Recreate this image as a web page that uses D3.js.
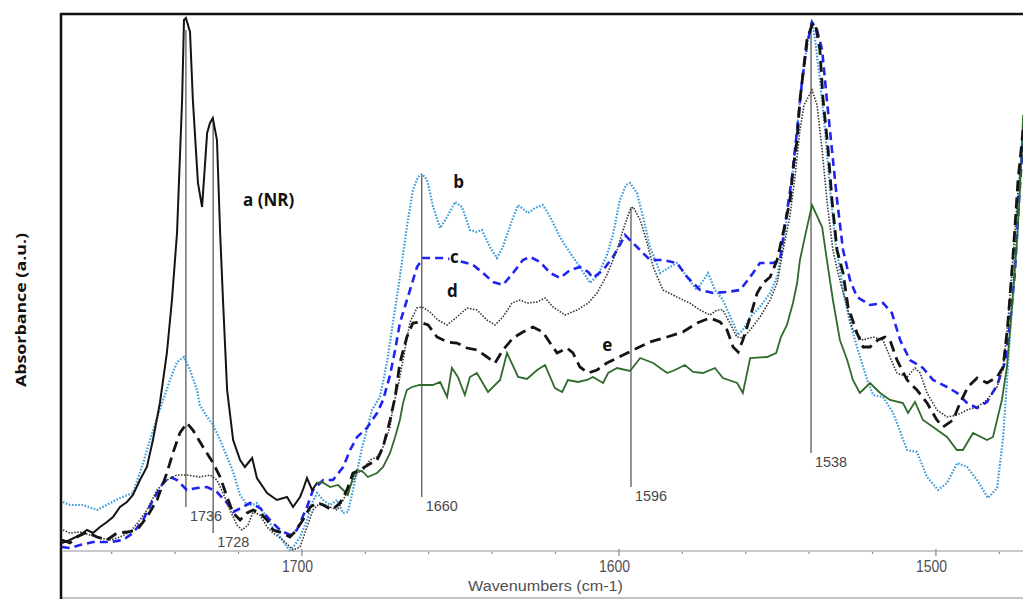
<!DOCTYPE html>
<html>
<head>
<meta charset="utf-8">
<script src="https://cdn.jsdelivr.net/npm/d3@7"></script>
<style>
  html, body { margin: 0; padding: 0; background: #fff; }
  svg { display: block; }
</style>
</head>
<body>
<svg id="chart" width="1023" height="599"></svg>
<script>
// ---------------- DATA (wavenumber cm-1, absorbance a.u.) ----------------
const seriesA_NR = [[1775.7,0.008],[1773.2,0.011],[1770.0,0.016],[1767.8,0.021],[1765.9,0.018],[1763.7,0.024],[1761.5,0.029],[1759.6,0.034],[1757.4,0.044],[1755.2,0.049],[1753.3,0.056],[1751.1,0.071],[1748.9,0.084],[1747.0,0.111],[1744.8,0.148],[1742.6,0.198],[1741.0,0.251],[1739.4,0.318],[1737.8,0.451],[1737.2,0.531],[1736.6,0.533],[1735.3,0.519],[1734.4,0.451],[1732.8,0.368],[1731.5,0.344],[1729.9,0.418],[1729.0,0.428],[1728.1,0.433],[1726.8,0.411],[1725.8,0.318],[1724.9,0.251],[1723.6,0.161],[1721.7,0.111],[1719.5,0.091],[1718.0,0.084],[1715.7,0.093],[1714.2,0.073],[1711.0,0.058],[1707.9,0.051],[1704.7,0.054],[1702.8,0.044],[1700.6,0.054],[1699.7,0.061],[1698.4,0.073],[1696.8,0.061],[1695.2,0.068],
[1693.7,0.069],[1691.1,0.064],[1688.6,0.066],[1687.0,0.061],[1685.5,0.056],[1683.9,0.074],[1682.6,0.081],[1680.7,0.079],[1679.2,0.074],[1676.3,0.078],[1674.4,0.084],[1672.2,0.098],[1670.6,0.114],[1669.1,0.131],[1668.1,0.148],[1666.9,0.161],[1665.3,0.164],[1662.8,0.166],[1658.7,0.166],[1656.4,0.169],[1654.2,0.154],[1652.7,0.183],[1650.8,0.174],[1648.6,0.156],[1647.0,0.174],[1644.8,0.178],[1641.3,0.159],[1637.5,0.171],[1635.3,0.198],[1631.8,0.174],[1629.0,0.172],[1625.8,0.181],[1623.3,0.186],[1620.2,0.163],[1617.9,0.159],[1616.1,0.171],[1612.9,0.169],[1610.1,0.171],[1608.2,0.174],[1605.0,0.168],[1603.4,0.178],[1600.6,0.183],[1596.5,0.180],[1593.3,0.193],[1589.2,0.188],[1584.8,0.178],[1582.3,0.181],[1579.2,0.186],[1576.6,0.179],[1573.5,0.178],[1569.7,0.183],[1567.2,0.173],[1562.7,0.168],[1560.9,0.158],[1558.6,0.193],[1553.3,0.194],[1550.4,0.198],[1548.9,0.214],[1547.0,0.226],[1545.1,0.248],[1543.8,0.268],[1542.9,0.291],[1541.0,0.319],[1539.1,0.346],[1537.5,0.335],[1535.9,0.324],[1534.4,0.291],[1532.5,0.251],[1530.3,0.211],[1528.0,0.191],[1526.2,0.171],[1524.0,0.158],[1520.8,0.168],[1517.6,0.158],[1514.5,0.151],[1510.4,0.148],[1508.8,0.138],[1506.6,0.149],[1504.1,0.131],[1500.9,0.124],[1496.5,0.114],[1493.4,0.101],[1491.5,0.101],[1488.3,0.118],[1483.9,0.111],[1482.0,0.114],[1479.2,0.151],[1477.6,0.184],[1476.0,0.244],[1474.4,0.311],[1473.5,0.361],[1472.5,0.436]];
// wavenumber where spectrum a changes from black to green in the original figure
const seriesA_colourSplit = 1695.2;

const seriesB = [[1775.4,0.049],[1773.2,0.046],[1769.1,0.046],[1764.6,0.041],[1760.5,0.048],[1757.4,0.053],[1753.3,0.058],[1750.1,0.088],[1747.9,0.111],[1745.7,0.133],[1743.8,0.151],[1741.6,0.171],[1739.4,0.189],[1737.2,0.194],[1735.3,0.181],[1733.1,0.161],[1732.2,0.146],[1729.9,0.134],[1728.0,0.126],[1725.8,0.111],[1723.6,0.094],[1721.7,0.079],[1719.5,0.056],[1717.3,0.046],[1715.7,0.046],[1714.2,0.048],[1711.6,0.036],[1709.4,0.024],[1706.9,0.014],[1704.7,0.004],[1703.8,0.001],[1702.2,0.006],[1700.6,0.014],[1698.4,0.031],[1696.8,0.048],[1695.2,0.058],[1693.3,0.051],[1691.1,0.046],[1688.9,0.051],[1687.0,0.038],[1685.5,0.039],[1683.9,0.061],[1682.3,0.084],[1681.0,0.104],[1679.5,0.121],[1677.9,0.141],[1675.4,0.154],[1673.2,0.188],[1671.3,0.228],[1669.1,0.274],[1666.9,0.324],[1665.0,0.361],[1663.4,0.374],[1662.1,0.377],[1660.5,0.371],[1658.6,0.344],[1656.4,0.323],[1654.2,0.334],[1651.7,0.349],[1649.5,0.344],[1647.0,0.321],[1644.8,0.319],[1643.2,0.321],[1640.7,0.304],[1638.5,0.293],[1636.6,0.304],[1633.7,0.331],[1631.8,0.346],[1628.7,0.338],[1626.5,0.343],[1624.0,0.346],[1621.7,0.334],[1618.6,0.314],[1615.4,0.298],[1612.3,0.284],[1609.1,0.268],[1606.6,0.276],[1603.8,0.296],[1601.9,0.316],[1599.7,0.351],[1597.8,0.366],[1596.5,0.368],[1594.3,0.358],[1592.4,0.334],[1590.2,0.304],[1587.0,0.278],[1583.9,0.284],[1581.7,0.288],[1578.5,0.274],[1575.4,0.261],[1571.9,0.278],[1569.7,0.261],[1567.2,0.251],[1564.0,0.228],[1562.4,0.216],[1560.9,0.221],[1558.6,0.234],[1555.5,0.244],[1552.3,0.258],[1550.1,0.274],[1548.6,0.301],[1547.0,0.334],[1545.1,0.381],[1542.9,0.451],[1540.7,0.506],[1539.1,0.529],[1538.1,0.511],[1536.6,0.471],[1535.0,0.421],[1533.4,0.361],[1531.8,0.311],[1529.3,0.261],[1527.1,0.228],[1524.9,0.204],[1521.7,0.171],[1519.8,0.156],[1516.7,0.154],[1513.5,0.138],[1509.1,0.101],[1506.0,0.099],[1502.8,0.074],[1499.3,0.061],[1496.5,0.068],[1493.3,0.088],[1490.2,0.084],[1487.0,0.071],[1483.6,0.053],[1480.7,0.063],[1478.8,0.114],[1477.3,0.184],[1475.7,0.261],[1474.1,0.351],[1472.5,0.421]];

const seriesC = [[1775.8,0.004],[1773.2,0.003],[1770.0,0.006],[1765.9,0.009],[1760.5,0.009],[1756.4,0.011],[1753.3,0.018],[1750.1,0.031],[1747.0,0.051],[1743.8,0.068],[1741.6,0.074],[1739.4,0.071],[1736.3,0.061],[1733.1,0.063],[1729.9,0.064],[1726.8,0.059],[1723.6,0.048],[1721.7,0.039],[1718.6,0.044],[1716.4,0.048],[1713.2,0.043],[1710.1,0.031],[1706.9,0.021],[1703.8,0.016],[1701.6,0.021],[1698.4,0.044],[1696.5,0.061],[1693.3,0.071],[1690.2,0.071],[1687.0,0.084],[1684.8,0.101],[1682.6,0.114],[1679.5,0.123],[1676.3,0.138],[1674.4,0.151],[1672.2,0.176],[1670.6,0.201],[1669.1,0.228],[1665.9,0.261],[1663.7,0.284],[1661.8,0.293],[1658.6,0.293],[1654.9,0.293],[1651.7,0.291],[1649.2,0.289],[1646.0,0.286],[1642.9,0.278],[1639.7,0.269],[1636.6,0.266],[1633.4,0.278],[1630.3,0.291],[1628.0,0.294],[1624.9,0.289],[1621.7,0.278],[1618.6,0.273],[1615.4,0.281],[1612.3,0.284],[1609.7,0.279],[1608.2,0.273],[1605.0,0.281],[1601.9,0.294],[1599.7,0.306],[1598.1,0.316],[1594.3,0.304],[1590.2,0.291],[1586.1,0.291],[1581.7,0.288],[1578.5,0.274],[1574.4,0.261],[1570.3,0.258],[1565.9,0.259],[1561.8,0.261],[1558.6,0.274],[1555.5,0.288],[1551.4,0.288],[1549.2,0.291],[1547.6,0.326],[1545.4,0.374],[1543.8,0.421],[1542.2,0.471],[1540.7,0.506],[1539.1,0.529],[1537.5,0.521],[1535.9,0.501],[1534.4,0.451],[1532.8,0.401],[1531.2,0.351],[1529.3,0.301],[1527.1,0.271],[1524.9,0.254],[1520.8,0.246],[1516.7,0.248],[1513.9,0.238],[1511.3,0.211],[1508.2,0.191],[1504.1,0.183],[1500.9,0.171],[1496.5,0.164],[1493.3,0.158],[1490.2,0.148],[1487.0,0.143],[1483.9,0.149],[1480.7,0.166],[1478.2,0.189],[1476.6,0.228],[1475.1,0.278],[1473.8,0.351],[1472.5,0.411]];

const seriesD = [[1775.4,0.021],[1773.2,0.018],[1770.0,0.019],[1766.9,0.016],[1763.7,0.013],[1760.5,0.011],[1757.4,0.014],[1754.2,0.019],[1751.1,0.031],[1748.9,0.041],[1745.7,0.061],[1742.6,0.071],[1739.4,0.076],[1736.3,0.076],[1732.2,0.074],[1729.0,0.076],[1726.8,0.071],[1724.9,0.058],[1722.7,0.041],[1720.5,0.026],[1718.9,0.021],[1717.0,0.026],[1715.4,0.039],[1713.2,0.036],[1711.0,0.024],[1709.1,0.018],[1706.0,0.011],[1702.8,0.001],[1700.6,0.004],[1698.4,0.024],[1696.5,0.041],[1694.3,0.048],[1691.1,0.044],[1688.9,0.041],[1687.0,0.051],[1684.8,0.064],[1682.6,0.078],[1680.7,0.081],[1678.5,0.091],[1676.3,0.094],[1674.4,0.104],[1672.2,0.124],[1671.3,0.144],[1669.7,0.164],[1668.1,0.191],[1665.9,0.229],[1663.7,0.243],[1662.1,0.244],[1659.6,0.239],[1657.1,0.231],[1654.2,0.226],[1651.1,0.234],[1647.9,0.243],[1644.8,0.241],[1641.6,0.231],[1639.1,0.226],[1636.6,0.234],[1633.7,0.248],[1631.2,0.251],[1629.0,0.248],[1625.8,0.249],[1623.3,0.253],[1620.8,0.244],[1617.0,0.236],[1613.2,0.241],[1609.7,0.248],[1606.9,0.258],[1603.8,0.276],[1600.6,0.301],[1598.7,0.321],[1596.5,0.341],[1595.5,0.344],[1593.3,0.331],[1591.1,0.308],[1589.2,0.284],[1586.1,0.261],[1581.7,0.254],[1577.7,0.248],[1574.4,0.241],[1571.3,0.236],[1569.1,0.241],[1567.2,0.241],[1565.0,0.228],[1562.8,0.214],[1560.9,0.213],[1558.6,0.221],[1555.5,0.234],[1552.3,0.251],[1550.1,0.268],[1548.2,0.301],[1546.0,0.336],[1544.4,0.376],[1542.9,0.421],[1541.6,0.446],[1539.1,0.461],[1537.5,0.446],[1535.9,0.401],[1534.4,0.351],[1532.5,0.301],[1530.9,0.278],[1528.0,0.244],[1526.2,0.221],[1523.0,0.211],[1519.8,0.214],[1516.7,0.211],[1514.5,0.194],[1512.3,0.178],[1509.1,0.174],[1506.6,0.183],[1505.0,0.178],[1502.8,0.158],[1499.7,0.141],[1496.5,0.134],[1493.3,0.136],[1490.2,0.141],[1487.0,0.144],[1483.9,0.151],[1480.7,0.164],[1478.8,0.184],[1477.3,0.228],[1475.7,0.294],[1474.1,0.361],[1472.5,0.401]];

const seriesE = [[1775.7,0.011],[1773.2,0.008],[1771.0,0.014],[1767.8,0.019],[1764.6,0.014],[1761.5,0.011],[1758.3,0.018],[1755.2,0.019],[1752.0,0.021],[1748.9,0.034],[1745.7,0.051],[1742.6,0.078],[1740.7,0.098],[1738.5,0.118],[1736.3,0.128],[1734.4,0.121],[1731.2,0.104],[1728.0,0.088],[1725.8,0.074],[1723.6,0.054],[1721.7,0.038],[1719.5,0.031],[1717.3,0.038],[1715.4,0.041],[1713.2,0.038],[1711.0,0.031],[1709.1,0.021],[1706.0,0.018],[1703.8,0.014],[1702.2,0.019],[1699.7,0.031],[1697.4,0.044],[1695.2,0.048],[1693.3,0.046],[1690.5,0.041],[1688.0,0.048],[1685.8,0.061],[1683.9,0.078],[1681.7,0.081],[1679.2,0.086],[1676.3,0.091],[1674.4,0.104],[1672.2,0.131],[1670.6,0.154],[1669.1,0.188],[1666.9,0.214],[1665.0,0.228],[1662.8,0.229],[1660.2,0.226],[1657.4,0.214],[1654.2,0.209],[1651.1,0.208],[1647.9,0.203],[1644.8,0.201],[1641.6,0.194],[1639.1,0.188],[1636.6,0.201],[1633.4,0.213],[1630.3,0.219],[1627.1,0.224],[1624.0,0.219],[1621.7,0.208],[1619.5,0.198],[1616.4,0.203],[1614.5,0.198],[1612.3,0.184],[1609.7,0.178],[1606.9,0.181],[1603.8,0.188],[1600.6,0.193],[1595.5,0.201],[1590.2,0.209],[1584.8,0.214],[1579.8,0.219],[1575.4,0.228],[1571.3,0.233],[1568.1,0.229],[1565.9,0.221],[1564.0,0.204],[1562.4,0.199],[1560.9,0.211],[1558.6,0.234],[1556.4,0.258],[1554.5,0.268],[1552.3,0.274],[1550.1,0.291],[1548.2,0.318],[1546.0,0.351],[1545.1,0.381],[1543.8,0.411],[1542.9,0.451],[1540.7,0.511],[1539.1,0.526],[1538.1,0.528],[1536.6,0.501],[1535.6,0.451],[1534.0,0.401],[1532.8,0.351],[1531.2,0.301],[1529.3,0.278],[1527.7,0.244],[1524.9,0.218],[1523.0,0.204],[1520.8,0.204],[1518.3,0.211],[1516.1,0.214],[1514.5,0.211],[1512.3,0.191],[1509.1,0.171],[1506.0,0.161],[1502.8,0.148],[1499.7,0.131],[1497.8,0.124],[1494.6,0.131],[1492.4,0.148],[1489.9,0.164],[1487.0,0.173],[1483.9,0.168],[1480.7,0.174],[1478.8,0.184],[1477.3,0.228],[1475.7,0.294],[1474.1,0.371],[1472.5,0.421]];

// peak marker lines: label, wavenumber, absorbance at top and bottom of the line
const peakLabels = ["1736", "1728", "1660", "1596", "1538"];
const peakWavenumbers = [1736.6, 1728.0, 1662.2, 1596.2, 1539.4];
const peakTops = [0.521, 0.431, 0.377, 0.344, 0.529];
const peakBottoms = [0.044, 0.018, 0.054, 0.064, 0.098];

// series name labels (text, wavenumber, absorbance of baseline)
const nameTexts = ["a (NR)", "b", "c", "d", "e"];
const nameWavenumbers = [1718.6, 1652.3, 1653.3, 1654.2, 1605.3];
const nameAbsorbances = [0.345, 0.363, 0.288, 0.254, 0.200];

const xMinorTicks = [1760,1740,1720,1700,1680,1660,1640,1620,1600,1580,1560,1540,1520,1500,1480];
const xMajorTicks = [1700, 1600, 1500];
const xTitle = "Wavenumbers  (cm-1)";
const yTitle = "Absorbance (a.u.)";

// ---------------- DRAWING ----------------
const svg = d3.select("#chart");
const W = 1023, H = 599;
const plotLeft = 61, plotTop = 14, axisY = 551;

const x = d3.scaleLinear().domain([1776, 1472]).range([plotLeft, 1024.7]);
const y = d3.scaleLinear().domain([0, 0.537]).range([axisY, plotTop]);

svg.append("rect").attr("width", W).attr("height", H).attr("fill", "#fff");

const defs = svg.append("defs");
defs.append("clipPath").attr("id", "plotclip")
  .append("rect").attr("x", plotLeft + 1).attr("y", plotTop).attr("width", W - plotLeft).attr("height", H - plotTop);
defs.append("clipPath").attr("id", "clipBlack")
  .append("rect").attr("x", plotLeft + 1).attr("y", 0).attr("width", x(seriesA_colourSplit) - plotLeft - 1).attr("height", H);
defs.append("clipPath").attr("id", "clipGreen")
  .append("rect").attr("x", x(seriesA_colourSplit)).attr("y", 0).attr("width", W).attr("height", H);

// x axis line (light grey)
svg.append("line").attr("x1", plotLeft + 2).attr("x2", W).attr("y1", axisY).attr("y2", axisY)
  .attr("stroke", "#c9c9c9").attr("stroke-width", 2);
// bottom light border
svg.append("line").attr("x1", plotLeft).attr("x2", W).attr("y1", 598).attr("y2", 598)
  .attr("stroke", "#c4c4c4").attr("stroke-width", 2);

// ticks
svg.append("g").selectAll("line").data(xMinorTicks).join("line")
  .attr("x1", d => x(d)).attr("x2", d => x(d))
  .attr("y1", d => xMajorTicks.includes(d) ? axisY - 2 : axisY + 1)
  .attr("y2", d => xMajorTicks.includes(d) ? axisY + 5 : axisY + 3)
  .attr("stroke", "#8a8a8a").attr("stroke-width", 1.2);

svg.append("g").selectAll("text").data(xMajorTicks).join("text")
  .attr("x", d => x(d) - 20).attr("y", 572)
  .attr("font-family", "'Liberation Sans', Arial, sans-serif").attr("font-size", 16)
  .attr("fill", "#505050")
  .attr("textLength", 31).attr("lengthAdjust", "spacingAndGlyphs")
  .text(d => d);

svg.append("text").attr("x", 468).attr("y", 591)
  .attr("font-family", "'Liberation Sans', Arial, sans-serif").attr("font-size", 15)
  .attr("fill", "#505050")
  .attr("textLength", 155).attr("lengthAdjust", "spacingAndGlyphs")
  .text(xTitle);

svg.append("text")
  .attr("transform", "translate(26,387) rotate(-90)")
  .attr("font-family", "'Open Sans', sans-serif").attr("font-size", 14).attr("font-weight", "bold")
  .attr("fill", "#111")
  .attr("textLength", 154).attr("lengthAdjust", "spacingAndGlyphs")
  .text(yTitle);

// peak marker lines
const markers = peakLabels.map((l, i) => ({label: l, wn: peakWavenumbers[i], top: peakTops[i], bottom: peakBottoms[i]}));
const mg = svg.append("g");
mg.selectAll("line").data(markers).join("line")
  .attr("x1", d => x(d.wn)).attr("x2", d => x(d.wn))
  .attr("y1", d => y(d.top)).attr("y2", d => y(d.bottom))
  .attr("stroke", "#5a5a5a").attr("stroke-width", 1.3);

// curves
const line = d3.line().x(d => x(d[0])).y(d => y(d[1])).curve(d3.curveLinear);
const curves = svg.append("g").attr("clip-path", "url(#plotclip)");

curves.append("path").datum(seriesB).attr("d", line).attr("fill", "none")
  .attr("stroke", "#3d9ddb").attr("stroke-width", 2.2).attr("stroke-dasharray", "1.6,1.6");
curves.append("path").datum(seriesC).attr("d", line).attr("fill", "none")
  .attr("stroke", "#1f24f0").attr("stroke-width", 2.6).attr("stroke-dasharray", "8,5");
curves.append("path").datum(seriesD).attr("d", line).attr("fill", "none")
  .attr("stroke", "#333").attr("stroke-width", 1.6).attr("stroke-dasharray", "1.5,1.5");
curves.append("path").datum(seriesA_NR).attr("d", line).attr("fill", "none")
  .attr("clip-path", "url(#clipGreen)")
  .attr("stroke", "#2f6b2a").attr("stroke-width", 1.8);
curves.append("path").datum(seriesE).attr("d", line).attr("fill", "none")
  .attr("stroke", "#141414").attr("stroke-width", 2.8).attr("stroke-dasharray", "11,6");
curves.append("path").datum(seriesA_NR).attr("d", line).attr("fill", "none")
  .attr("clip-path", "url(#clipBlack)")
  .attr("stroke", "#141414").attr("stroke-width", 2);

// marker labels
mg.selectAll("text").data(markers).join("text")
  .attr("x", d => x(d.wn) + 4).attr("y", d => y(d.bottom) + 14)
  .attr("font-family", "'Liberation Sans', Arial, sans-serif").attr("font-size", 15)
  .attr("fill", "#484848")
  .attr("textLength", 32).attr("lengthAdjust", "spacingAndGlyphs")
  .text(d => d.label);

// series name labels
const names = nameTexts.map((t, i) => ({t, wn: nameWavenumbers[i], a: nameAbsorbances[i]}));
svg.append("g").selectAll("text").data(names).join("text")
  .attr("x", d => x(d.wn)).attr("y", d => y(d.a))
  .attr("font-family", "'Open Sans', sans-serif").attr("font-size", 17).attr("font-weight", "bold")
  .attr("fill", "#111")
  .attr("stroke", "#fff").attr("stroke-width", 3).attr("paint-order", "stroke")
  .text(d => d.t);

// frame (left and top, black)
svg.append("line").attr("x1", plotLeft).attr("x2", plotLeft).attr("y1", plotTop - 1).attr("y2", H)
  .attr("stroke", "#111").attr("stroke-width", 2.5);
svg.append("line").attr("x1", plotLeft - 1).attr("x2", W).attr("y1", plotTop).attr("y2", plotTop)
  .attr("stroke", "#111").attr("stroke-width", 2.5);
</script>
</body>
</html>
